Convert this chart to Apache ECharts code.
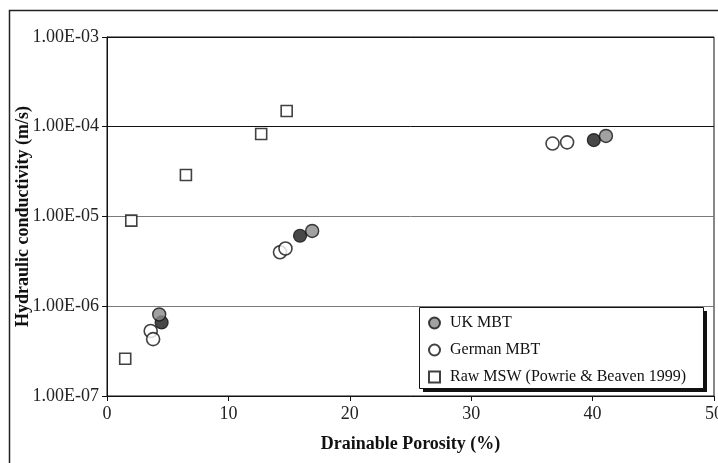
<!DOCTYPE html>
<html>
<head>
<meta charset="utf-8">
<script src="https://cdn.jsdelivr.net/npm/echarts@6/dist/echarts.min.js"></script>
<style>
html,body{margin:0;padding:0;background:#fff;}
#chart{width:718px;height:463px;}
</style>
</head>
<body>
<div id="chart"></div>
<script>
// Data
const ukX = [4.3, 16.9, 41.1];
const ukY = [8.1e-7, 6.9e-6, 7.9e-5];
const blackX = [4.5, 15.9, 40.1];
const blackY = [6.6e-7, 6.1e-6, 7.1e-5];
const germanX = [3.6, 3.8, 14.25, 14.7, 36.7, 37.9];
const germanY = [5.3e-7, 4.3e-7, 4.0e-6, 4.4e-6, 6.5e-5, 6.7e-5];
const rawX = [1.5, 2.0, 6.5, 12.7, 14.8];
const rawY = [2.6e-7, 9.0e-6, 2.9e-5, 8.3e-5, 1.5e-4];
const seriesNames = ['UK MBT', 'German MBT', 'Raw MSW (Powrie & Beaven 1999)'];

function pairs(xs, ys) { return xs.map((x, i) => [x, ys[i]]); }
function fmtE(v) {
  const e = Math.round(Math.log10(v));
  const m = v / Math.pow(10, e);
  const sign = e < 0 ? '-' : '+';
  const a = Math.abs(e);
  return m.toFixed(2) + 'E' + sign + (a < 10 ? '0' + a : a);
}

const font = '"Liberation Serif", "Times New Roman", serif';
const chart = echarts.init(document.getElementById('chart'));
chart.setOption({
  animation: false,
  backgroundColor: '#fff',
  textStyle: { fontFamily: font },
  graphic: [
    {
      type: 'rect', left: 7, top: 8, silent: true, z: -1,
      shape: { width: 730, height: 480 },
      style: { fill: 'none', stroke: '#222', lineWidth: 1.5 }
    },
    {
      type: 'rect', left: 423, top: 311, silent: true, z: 5,
      shape: { width: 284, height: 81 },
      style: { fill: '#111' }
    },
    {
      type: 'rect', left: 419, top: 307, silent: true, z: 5,
      shape: { width: 284, height: 81 },
      style: { fill: '#fff', stroke: '#111', lineWidth: 1 }
    }
  ],
  grid: { left: 107, right: 4, top: 37, bottom: 67, outerBoundsMode: 'none', containLabel: false,
          show: true, borderColor: '#111', borderWidth: 1, backgroundColor: 'transparent' },
  legend: {
    data: [
      { name: seriesNames[0], icon: 'circle' },
      { name: seriesNames[1], icon: 'circle' },
      { name: seriesNames[2], icon: 'rect' }
    ],
    z: 10,
    orient: 'vertical',
    left: 419, top: 308,
    padding: [7, 18, 5, 9],
    itemGap: 11,
    itemWidth: 11, itemHeight: 11,
    textStyle: { fontFamily: font, fontSize: 16, color: '#111', padding: [0, 0, 0, 5] }
  },
  xAxis: {
    type: 'value', min: 0, max: 50, interval: 10,
    name: 'Drainable Porosity (%)', nameLocation: 'middle', nameGap: 39, nameMoveOverlap: false,
    nameTextStyle: { fontFamily: font, fontSize: 18, fontWeight: 'bold', color: '#111' },
    axisLine: { show: true, lineStyle: { color: '#111', width: 1 } },
    axisTick: { show: true, inside: false, length: 5, lineStyle: { color: '#111' } },
    axisLabel: { fontFamily: font, fontSize: 18, color: '#222', margin: 9 },
    splitLine: { show: false }
  },
  yAxis: {
    type: 'log', logBase: 10, min: 1e-7, max: 1e-3,
    name: 'Hydraulic conductivity (m/s)', nameLocation: 'middle', nameGap: 75, nameMoveOverlap: false,
    nameTextStyle: { fontFamily: font, fontSize: 18, fontWeight: 'bold', color: '#111' },
    axisLine: { show: true, lineStyle: { color: '#111', width: 1 } },
    axisTick: { show: true, inside: false, length: 5, lineStyle: { color: '#111' } },
    axisLabel: { fontFamily: font, fontSize: 18, color: '#222', margin: 8, formatter: fmtE },
    splitLine: { show: true, lineStyle: { color: ['#111', '#7a7a7a', '#7a7a7a', '#111', '#111'], width: 1 } },
    minorTick: { show: false }
  },
  series: [
    {
      name: seriesNames[2], type: 'scatter', symbol: 'rect', symbolSize: 11,
      data: pairs(rawX, rawY),
      itemStyle: { color: '#fff', borderColor: '#111', borderWidth: 1.6 }, z: 3
    },
    {
      name: seriesNames[1], type: 'scatter', symbol: 'circle', symbolSize: 13,
      data: pairs(germanX, germanY),
      itemStyle: { color: '#fff', borderColor: '#111', borderWidth: 1.6 }, z: 3
    },
    {
      name: 'black', type: 'scatter', symbol: 'circle', symbolSize: 13,
      data: pairs(blackX, blackY),
      itemStyle: { color: '#1a1a1a', borderColor: '#111', borderWidth: 1.2 }, z: 3
    },
    {
      name: seriesNames[0], type: 'scatter', symbol: 'circle', symbolSize: 13,
      data: pairs(ukX, ukY),
      itemStyle: { color: '#8a8a8a', borderColor: '#111', borderWidth: 1.4 }, z: 3
    }
  ]
});
</script>
</body>
</html>
